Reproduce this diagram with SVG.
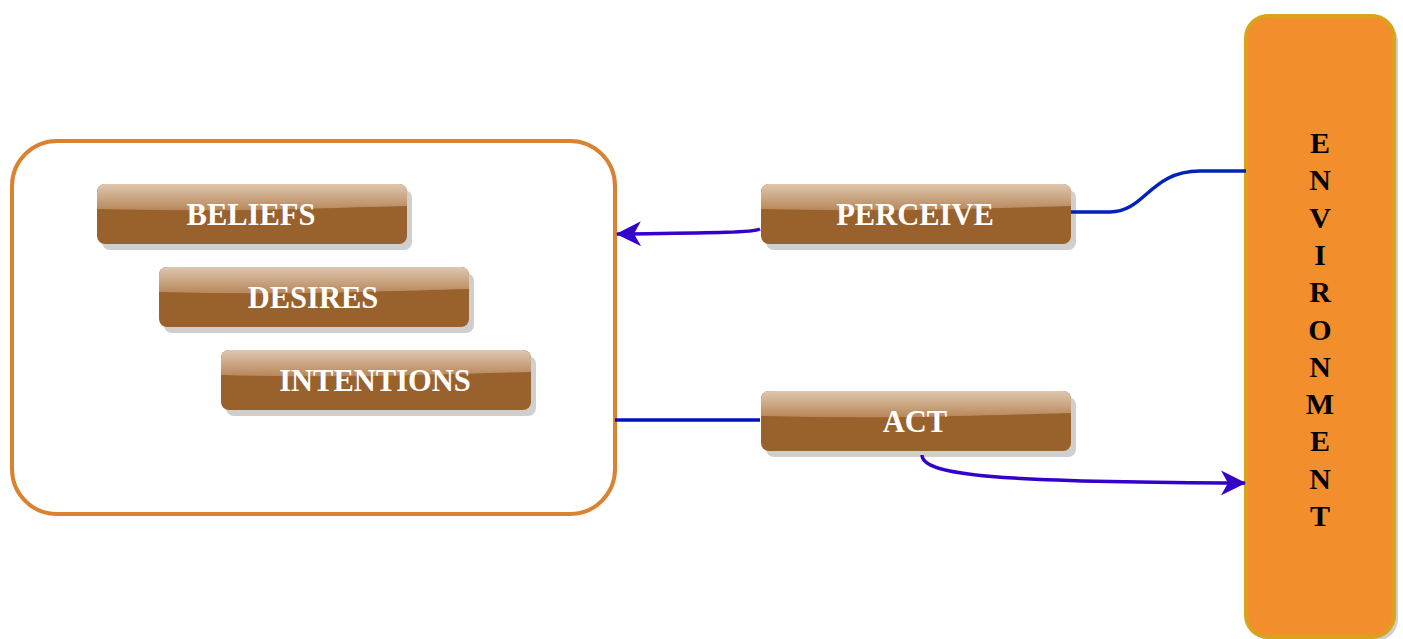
<svg xmlns="http://www.w3.org/2000/svg" width="1403" height="639" viewBox="0 0 1403 639">
  <style>
    .btn-body { fill: #99612b; }
    .btn-shadow { fill: #cfcfcf; }
    .btn-label { font-family: "Liberation Serif", "Times New Roman", serif; font-weight: bold; font-size: 30.5px; fill: #ffffff; text-anchor: middle; }
    .env-label { font-family: "Liberation Serif", "Times New Roman", serif; font-weight: bold; font-size: 30px; fill: #000000; text-anchor: middle; }
    .conn { fill: none; stroke-width: 3.5; }
  </style>
  <defs>
    <linearGradient id="gloss" x1="0" y1="0" x2="0" y2="1">
      <stop offset="0" stop-color="#dfc7b0"/>
      <stop offset="1" stop-color="#b78759"/>
    </linearGradient>
    <filter id="soft" x="-5%" y="-5%" width="110%" height="110%">
      <feGaussianBlur stdDeviation="0.6"/>
    </filter>
    <marker id="arrowhead" viewBox="0 0 25 25" refX="24" refY="12.5" markerWidth="25" markerHeight="25" markerUnits="userSpaceOnUse" orient="auto">
      <path d="M0,0 L25,12.5 L0,25 L7,12.5 Z" fill="#3300cc"/>
    </marker>
    <!-- glossy brown button template, 310 x 60 -->
    <g id="button">
      <rect class="btn-shadow" x="5" y="6" width="310" height="60" rx="8" filter="url(#soft)"/>
      <rect class="btn-body" x="0" y="0" width="310" height="60" rx="8"/>
      <path d="M8,0 H302 A8,8 0 0 1 310,8 V22 Q200,25 155,26 Q80,27 0,25 V8 A8,8 0 0 1 8,0 Z" fill="url(#gloss)"/>
    </g>
  </defs>

  <!-- agent container -->
  <g id="agent">
    <rect x="12" y="141" width="603" height="373" rx="45" fill="#ffffff" stroke="#d98230" stroke-width="4"/>
  </g>

  <!-- environment -->
  <g id="environment">
    <rect x="1250" y="20" width="148" height="621" rx="22" fill="#cfcfcf" filter="url(#soft)"/>
    <rect x="1246" y="16" width="148" height="621" rx="22" fill="#f28e2b" stroke="#dba21b" stroke-width="4"/>
    <text class="env-label" x="1320" y="153">E</text>
    <text class="env-label" x="1320" y="190.3">N</text>
    <text class="env-label" x="1320" y="227.6">V</text>
    <text class="env-label" x="1320" y="264.9">I</text>
    <text class="env-label" x="1320" y="302.2">R</text>
    <text class="env-label" x="1320" y="339.5">O</text>
    <text class="env-label" x="1320" y="376.8">N</text>
    <text class="env-label" x="1320" y="414.1">M</text>
    <text class="env-label" x="1320" y="451.4">E</text>
    <text class="env-label" x="1320" y="488.7">N</text>
    <text class="env-label" x="1320" y="526">T</text>
  </g>

  <g id="beliefs">
    <use href="#button" x="97" y="184"/>
    <text class="btn-label" x="251" y="225">BELIEFS</text>
  </g>
  <g id="desires">
    <use href="#button" x="159" y="267"/>
    <text class="btn-label" x="313" y="308">DESIRES</text>
  </g>
  <g id="intentions">
    <use href="#button" x="221" y="350"/>
    <text class="btn-label" x="375" y="391">INTENTIONS</text>
  </g>
  <g id="perceive">
    <use href="#button" x="761" y="184"/>
    <text class="btn-label" x="915" y="225">PERCEIVE</text>
  </g>
  <g id="act">
    <use href="#button" x="761" y="391"/>
    <text class="btn-label" x="915" y="432">ACT</text>
  </g>

  <!-- connectors -->
  <g id="connectors">
    <path class="conn" d="M760,229 C752,233 700,233 617,234" stroke="#3300cc" marker-end="url(#arrowhead)"/>
    <path class="conn" d="M1071,212 H1110 C1145,212 1150,171 1200,171 H1246" stroke="#0022bb"/>
    <path class="conn" d="M615,420 H760" stroke="#0010c0"/>
    <path class="conn" d="M922,455 C922,476 1000,482 1245,483" stroke="#3300cc" marker-end="url(#arrowhead)"/>
  </g>
</svg>
